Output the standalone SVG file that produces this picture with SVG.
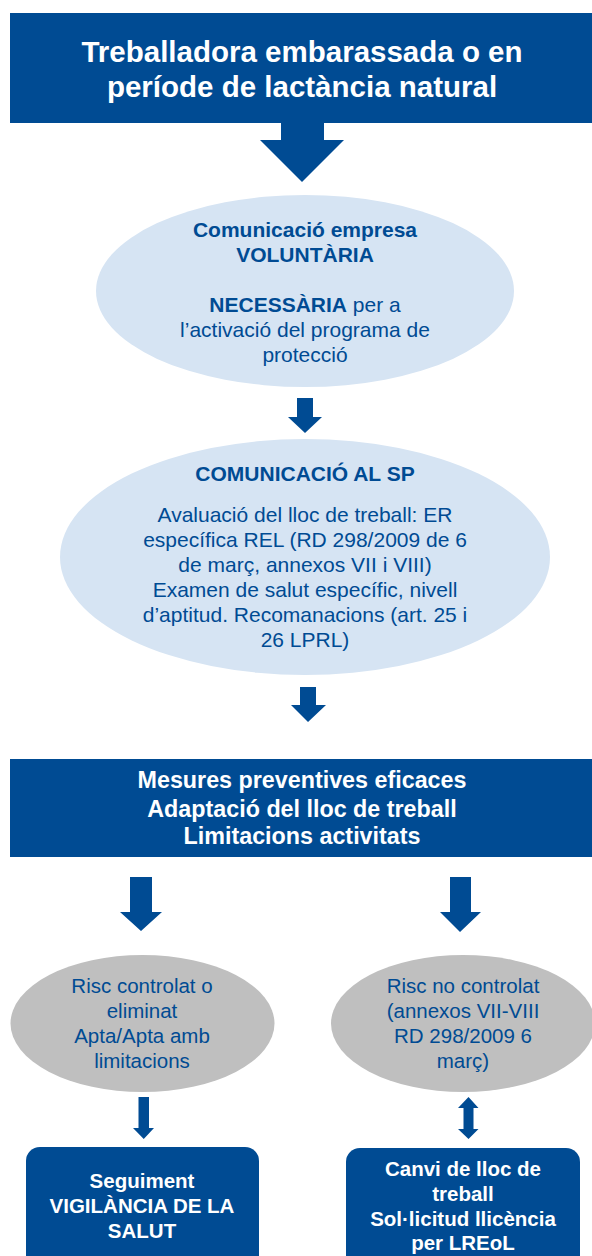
<svg xmlns="http://www.w3.org/2000/svg" width="592" height="1256" viewBox="0 0 592 1256">
<style>
.box{fill:#004b93}
.arr{fill:#004b93}
.ell1{fill:#d6e4f3}
.ell2{fill:#bfbfbf}
text{font-family:"Liberation Sans",Arial,sans-serif;text-anchor:middle}
.wt{fill:#ffffff;font-weight:bold}
.bt{fill:#004b93}
.b{font-weight:bold}
</style>
<rect width="592" height="1256" fill="#ffffff"/>
<g id="header">
<rect class="box" x="10" y="13" width="582" height="110"/>
<text class="wt" x="302" y="62" font-size="29.5">Treballadora embarassada o en</text>
<text class="wt" x="302" y="97" font-size="29.5">període de lactància natural</text>
</g>
<g id="comunicacio-empresa">
<ellipse class="ell1" cx="305" cy="291" rx="209" ry="96"/>
<text class="bt b" x="305" y="237" font-size="21">Comunicació empresa</text>
<text class="bt b" x="305" y="262" font-size="21">VOLUNTÀRIA</text>
<text class="bt" x="305" y="312" font-size="21"><tspan class="b">NECESSÀRIA</tspan> per a</text>
<text class="bt" x="305" y="337" font-size="21">l’activació del programa de</text>
<text class="bt" x="305" y="362" font-size="21">protecció</text>
</g>
<g id="comunicacio-sp">
<ellipse class="ell1" cx="305" cy="557" rx="245" ry="118"/>
<text class="bt b" x="305" y="481" font-size="21">COMUNICACIÓ AL SP</text>
<text class="bt" x="305" y="522" font-size="21">Avaluació del lloc de treball: ER</text>
<text class="bt" x="305" y="547" font-size="21">específica REL (RD 298/2009 de 6</text>
<text class="bt" x="305" y="572" font-size="21">de març, annexos VII i VIII)</text>
<text class="bt" x="305" y="597" font-size="21">Examen de salut específic, nivell</text>
<text class="bt" x="305" y="622" font-size="21">d’aptitud. Recomanacions (art. 25 i</text>
<text class="bt" x="305" y="647" font-size="21">26 LPRL)</text>
</g>
<g id="mesures">
<rect class="box" x="10" y="759" width="582" height="98"/>
<text class="wt" x="302" y="788" font-size="23.3">Mesures preventives eficaces</text>
<text class="wt" x="302" y="817" font-size="23.3">Adaptació del lloc de treball</text>
<text class="wt" x="302" y="844" font-size="23.3">Limitacions activitats</text>
</g>
<g id="risc-controlat">
<ellipse class="ell2" cx="142.5" cy="1023.5" rx="132" ry="68.5"/>
<text class="bt" x="142" y="993" font-size="20.5">Risc controlat o</text>
<text class="bt" x="142" y="1018" font-size="20.5">eliminat</text>
<text class="bt" x="142" y="1043" font-size="20.5">Apta/Apta amb</text>
<text class="bt" x="142" y="1068" font-size="20.5">limitacions</text>
</g>
<g id="risc-no-controlat">
<ellipse class="ell2" cx="463" cy="1023.5" rx="132" ry="68.5"/>
<text class="bt" x="463" y="993" font-size="20.5">Risc no controlat</text>
<text class="bt" x="463" y="1018" font-size="20.5">(annexos VII-VIII</text>
<text class="bt" x="463" y="1043" font-size="20.5">RD 298/2009 6</text>
<text class="bt" x="463" y="1068" font-size="20.5">març)</text>
</g>
<g id="seguiment">
<rect class="box" x="26" y="1147" width="233" height="130" rx="14"/>
<text class="wt" x="142" y="1188" font-size="20.5">Seguiment</text>
<text class="wt" x="142" y="1213" font-size="20.5">VIGILÀNCIA DE LA</text>
<text class="wt" x="142" y="1238" font-size="20.5">SALUT</text>
</g>
<g id="canvi">
<rect class="box" x="346" y="1148" width="234" height="130" rx="14"/>
<text class="wt" x="463" y="1176" font-size="20.5">Canvi de lloc de</text>
<text class="wt" x="463" y="1201" font-size="20.5">treball</text>
<text class="wt" x="463" y="1226" font-size="20.5">Sol·licitud llicència</text>
<text class="wt" x="463" y="1250" font-size="20.5">per LREoL</text>
</g>
<g id="connectors">
<polygon class="arr" points="281,123 324,123 324,140 344,140 302,182 260,140 281,140"/>
<polygon class="arr" points="297,398 313,398 313,417 322,417 305,433 288,417 297,417"/>
<polygon class="arr" points="300,687 316,687 316,705 326,705 308,722 291,705 300,705"/>
<polygon class="arr" points="130,877 152,877 152,912 162,912 141,931 120,912 130,912"/>
<polygon class="arr" points="450,877 471,877 471,912 481,912 460,932 440,912 450,912"/>
<polygon class="arr" points="138.5,1097 149,1097 149,1128 154,1128 143.75,1139 133,1128 138.5,1128"/>
<polygon class="arr" points="468.5,1097 478.5,1108 473.5,1108 473.5,1129 478.5,1129 468.5,1139 458,1129 463.5,1129 463.5,1108 458,1108"/>
</g>
</svg>
